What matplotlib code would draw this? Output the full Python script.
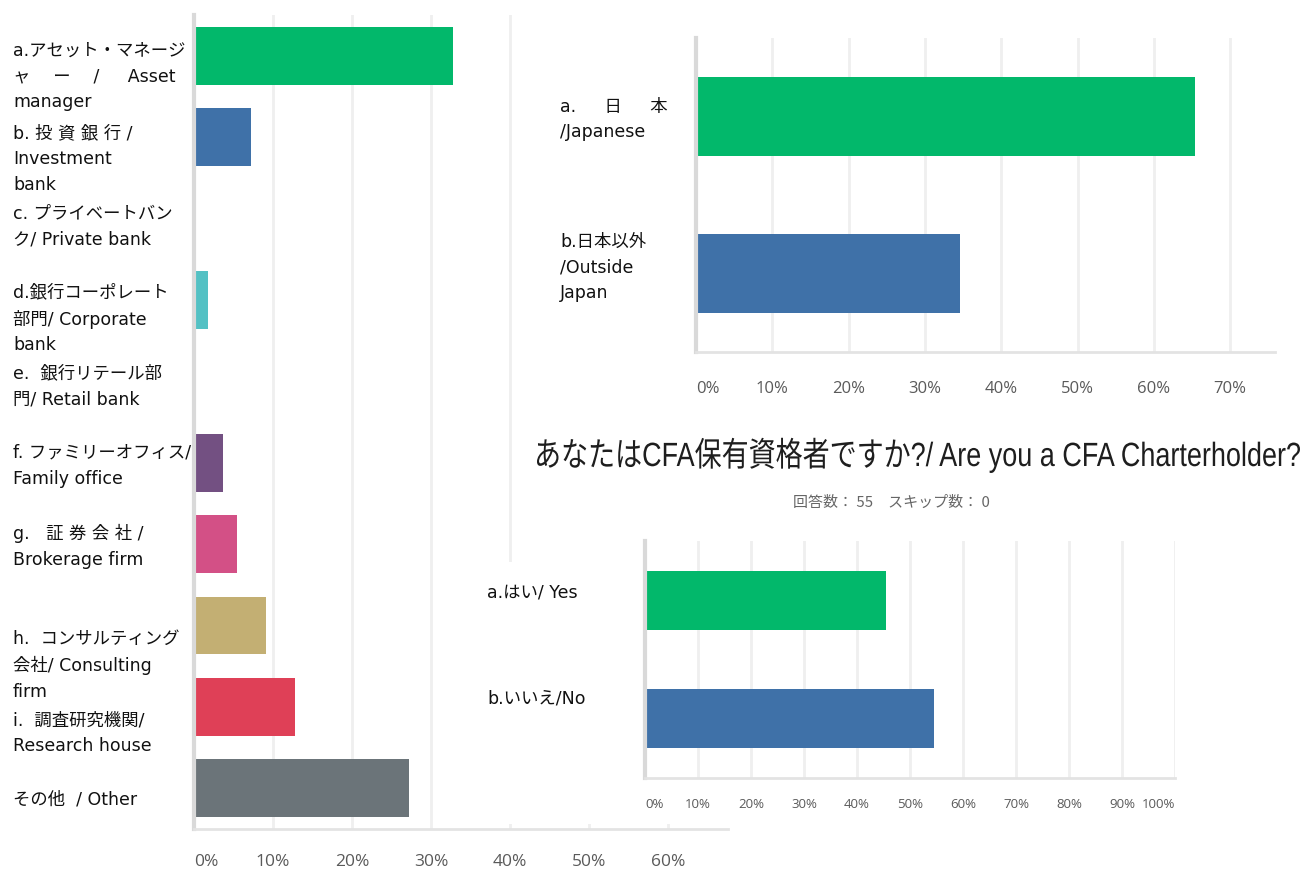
import matplotlib
matplotlib.use("Agg")
import matplotlib.pyplot as plt
from matplotlib.patches import Rectangle, PathPatch
from matplotlib.textpath import TextPath
from matplotlib.font_manager import FontProperties
from matplotlib.transforms import Affine2D

# Survey results (55 respondents), shares in percent
sector_labels = [
    "a.アセット・マネージ\nャ　 ー　 /　  Asset\nmanager",
    "b. 投 資 銀 行 /\nInvestment\nbank",
    "c. プライベートバン\nク/ Private bank",
    "d.銀行コーポレート\n部門/ Corporate\nbank",
    "e.  銀行リテール部\n門/ Retail bank",
    "f. ファミリーオフィス/\nFamily office",
    "g.   証 券 会 社 /\nBrokerage firm",
    "h.  コンサルティング\n会社/ Consulting\nfirm",
    "i.  調査研究機関/\nResearch house",
    "その他  / Other",
]
sector_counts = [18, 4, 0, 1, 0, 2, 3, 5, 7, 15]
sector_colors = ["#02b86b", "#3f71a8", "#53c1c4", "#53c1c4", "#53c1c4",
                 "#735082", "#d35086", "#c3af73", "#df4057", "#6b7479"]

nation_labels = ["a.　  日　  本\n/Japanese", "b.日本以外\n/Outside\nJapan"]
nation_counts = [36, 19]

cfa_labels = ["a.はい/ Yes", "b.いいえ/No"]
cfa_counts = [25, 30]
n_resp = 55

title = "あなたはCFA保有資格者ですか?/ Are you a CFA Charterholder?"
subtitle = "回答数： 55　スキップ数： 0"

GREEN, BLUE = "#02b86b", "#3f71a8"
LABEL_FONT = ["DejaVu Sans", "Noto Sans CJK JP"]
TICK_FONT = ["Open Sans", "DejaVu Sans"]

W, H = 1306, 870
fig = plt.figure(figsize=(W / 100, H / 100), dpi=100)


def px_axes(x0, y0, x1, y1, **kw):
    return fig.add_axes([x0 / W, 1 - y1 / H, (x1 - x0) / W, (y1 - y0) / H], **kw)


def style_axes(ax, xmax, ticks, tick_size, tick_pad, first_left=True, last_right=False):
    ax.set_xlim(0, xmax)
    ax.set_xticks(ticks)
    ax.set_xticklabels([f"{t}%" for t in ticks], fontsize=tick_size,
                       color="#5a5a5a", family=TICK_FONT)
    labels = ax.get_xticklabels()
    if first_left:
        labels[0].set_ha("left")
    if last_right:
        labels[-1].set_ha("right")
    ax.tick_params(axis="x", length=0, pad=tick_pad)
    ax.tick_params(axis="y", length=0, labelleft=False)
    ax.grid(axis="x", color="#efefef", linewidth=2)
    ax.set_axisbelow(True)
    for s in ("top", "right"):
        ax.spines[s].set_visible(False)
    ax.spines["left"].set_color("#d9d9d9")
    ax.spines["left"].set_linewidth(3)
    ax.spines["bottom"].set_color("#e3e3e3")
    ax.spines["bottom"].set_linewidth(2)


def put_labels(ax, labels, x_off, shifts, size):
    for i, (lab, dy) in enumerate(zip(labels, shifts)):
        ax.annotate(lab, xy=(0, i), xycoords=("axes fraction", "data"),
                    xytext=(-x_off, -dy), textcoords="offset pixels",
                    ha="left", va="center", fontsize=size, family=LABEL_FONT,
                    color="#111111", linespacing=1.55, annotation_clip=False)


# left panel: sector of employment
ax1 = px_axes(194, 16, 728, 830)
pct1 = [c / n_resp * 100 for c in sector_counts]
y1 = range(len(pct1))
ax1.barh(y1, pct1, height=0.71, color=sector_colors)
ax1.set_ylim(len(pct1) - 0.5, -0.5)
style_axes(ax1, 534 / 7.9, list(range(0, 61, 10)), 12.5, 17)
put_labels(ax1, sector_labels, 181, [20, 21, 7, 18, 4, 2, 1, 39, 25, 10], 12.5)

# white backing for the right-hand panels
for x0, y0, x1, y1 in [(514, 0, W, 415), (514, 415, W, 563), (478, 563, W, 825)]:
    fig.add_artist(Rectangle((x0 / W, 1 - y1 / H), (x1 - x0) / W, (y1 - y0) / H,
                             transform=fig.transFigure, facecolor="white",
                             edgecolor="none", zorder=1))

# top right: nationality
ax2 = px_axes(696, 39, 1275, 353)
ax2.set_zorder(2)
pct2 = [c / n_resp * 100 for c in nation_counts]
ax2.barh(range(2), pct2, height=0.5, color=[GREEN, BLUE])
ax2.set_ylim(1.5, -0.5)
style_axes(ax2, 579 / 7.63, list(range(0, 71, 10)), 12, 20)
put_labels(ax2, nation_labels, 136, [2, -7], 12.5)

# bottom right: CFA charterholder
ax3 = px_axes(645, 542, 1175, 779)
ax3.set_zorder(2)
pct3 = [c / n_resp * 100 for c in cfa_counts]
ax3.barh(range(2), pct3, height=0.5, color=[GREEN, BLUE])
ax3.set_ylim(1.5, -0.5)
style_axes(ax3, 100, list(range(0, 101, 10)), 9.5, 14, last_right=True)
put_labels(ax3, cfa_labels, 158, [-9, -21], 12.5)

# condensed title: glyph outlines squeezed horizontally to the panel width
tp = TextPath((0, 0), title, size=30,
              prop=FontProperties(family=["Liberation Sans", "Noto Sans CJK JP"]))
ext = tp.get_extents()
sx = 763 / ext.width
title_tf = Affine2D().translate(-ext.x0, 0).scale(sx, 1.12).translate(537, H - 467)
fig.add_artist(PathPatch(tp, transform=title_tf, facecolor="#1e1e1e",
                         edgecolor="none", zorder=3))

fig.text(891 / W, 1 - 503 / H, subtitle, ha="center", va="center", fontsize=10.8,
         family=["Noto Sans CJK JP"], color="#666666", zorder=3)

fig.savefig("out.png", dpi=100, facecolor="white")
